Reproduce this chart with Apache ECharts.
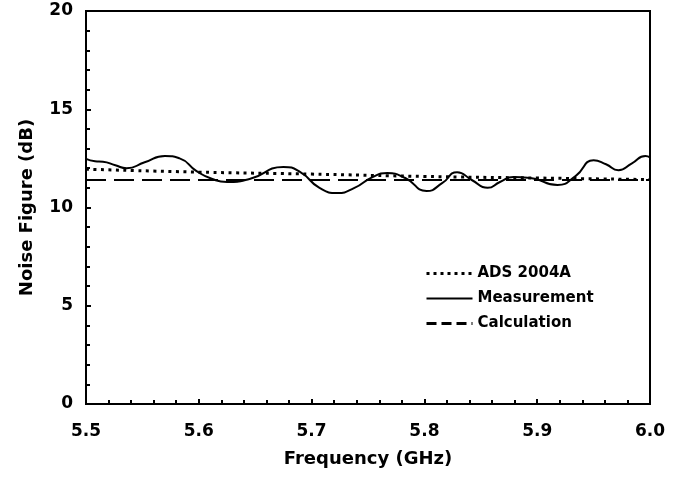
<!DOCTYPE html>
<html>
<head>
<meta charset="utf-8">
<script src="https://cdn.jsdelivr.net/npm/echarts@6/dist/echarts.min.js"></script>
<style>
html,body{margin:0;padding:0;background:#fff;}
#chart{width:685px;height:478px;}
</style>
</head>
<body>
<div id="chart"></div>
<script>
// Measured noise figure (GHz, dB)
const measFreq = [5.500,5.508,5.515,5.526,5.536,5.552,5.570,5.583,5.598,5.612,5.625,5.645,5.675,5.690,5.707,5.723,5.738,5.754,5.767,5.783,5.802,5.816,5.829,5.842,5.856,5.867,5.879,5.894,5.918,5.934,5.950,5.961,5.972,5.984,5.996,6.000];
const measNF   = [12.47,12.35,12.33,12.15,12.0,12.3,12.62,12.5,11.85,11.45,11.3,11.45,12.06,11.8,11.0,10.74,11.0,11.55,11.75,11.5,10.84,11.25,11.8,11.4,11.0,11.3,11.55,11.5,11.15,11.6,12.4,12.2,11.9,12.25,12.62,12.55];
// ADS 2004A simulation
const adsFreq = [5.5,5.6,5.7,5.8,5.9,6.0];
const adsNF   = [11.95,11.8,11.7,11.58,11.5,11.42];
// Calculated noise figure
const calcFreq = [5.5,6.0];
const calcNF   = [11.4,11.4];

const pairs = (xs, ys) => xs.map((x, i) => [x, ys[i]]);
const FONT = '"DejaVu Sans", sans-serif';
const txt = size => ({fontFamily: FONT, fontWeight: 'bold', fontSize: size, color: '#000'});

const chart = echarts.init(document.getElementById('chart'));
chart.setOption({
  animation: false,
  grid: {left: 86, right: 35, top: 11, bottom: 74, show: true, borderColor: '#000', borderWidth: 2, backgroundColor: 'transparent'},
  legend: {
    orient: 'vertical', left: 420, top: 261, itemWidth: 46, itemHeight: 14, itemGap: 10,
    textStyle: txt(15),
    itemStyle: {opacity: 0},
    data: [
      {name: 'ADS 2004A', lineStyle: {width: 3, type: [3, 4], cap: 'butt', color: '#000'}},
      {name: 'Measurement', lineStyle: {width: 2, type: 'solid', cap: 'butt', color: '#000'}},
      {name: 'Calculation', lineStyle: {width: 3, type: [10, 5], cap: 'butt', color: '#000'}}
    ]
  },
  xAxis: {
    type: 'value', min: 5.5, max: 6.0, interval: 0.1,
    name: 'Frequency (GHz)', nameLocation: 'middle', nameGap: 46,
    nameTextStyle: txt(18),
    axisLine: {lineStyle: {color: '#000', width: 2}},
    axisTick: {inside: true, length: 5, lineStyle: {color: '#000', width: 2}},
    minorTick: {show: true, splitNumber: 5, length: 4, lineStyle: {color: '#000', width: 2}},
    splitLine: {show: false},
    axisLabel: Object.assign({formatter: v => v.toFixed(1), margin: 19}, txt(17))
  },
  yAxis: {
    type: 'value', min: 0, max: 20, interval: 5,
    name: 'Noise Figure (dB)', nameLocation: 'middle', nameGap: 50,
    nameTextStyle: txt(18),
    axisLine: {lineStyle: {color: '#000', width: 2}},
    axisTick: {inside: true, length: 5, lineStyle: {color: '#000', width: 2}},
    minorTick: {show: true, splitNumber: 5, length: 4, lineStyle: {color: '#000', width: 2}},
    splitLine: {show: false},
    axisLabel: Object.assign({margin: 13}, txt(17))
  },
  series: [
    {name: 'ADS 2004A', type: 'line', data: pairs(adsFreq, adsNF), smooth: true, showSymbol: false, symbol: 'none',
     color: '#000', lineStyle: {color: '#000', width: 3, type: [3, 4.5], cap: 'butt'}},
    {name: 'Measurement', type: 'line', data: pairs(measFreq, measNF), smooth: 0.55, showSymbol: false, symbol: 'none',
     color: '#000', lineStyle: {color: '#000', width: 2}},
    {name: 'Calculation', type: 'line', data: pairs(calcFreq, calcNF), showSymbol: false, symbol: 'none',
     color: '#000', lineStyle: {color: '#000', width: 2, type: [20, 8]}}
  ]
});
</script>
</body>
</html>
